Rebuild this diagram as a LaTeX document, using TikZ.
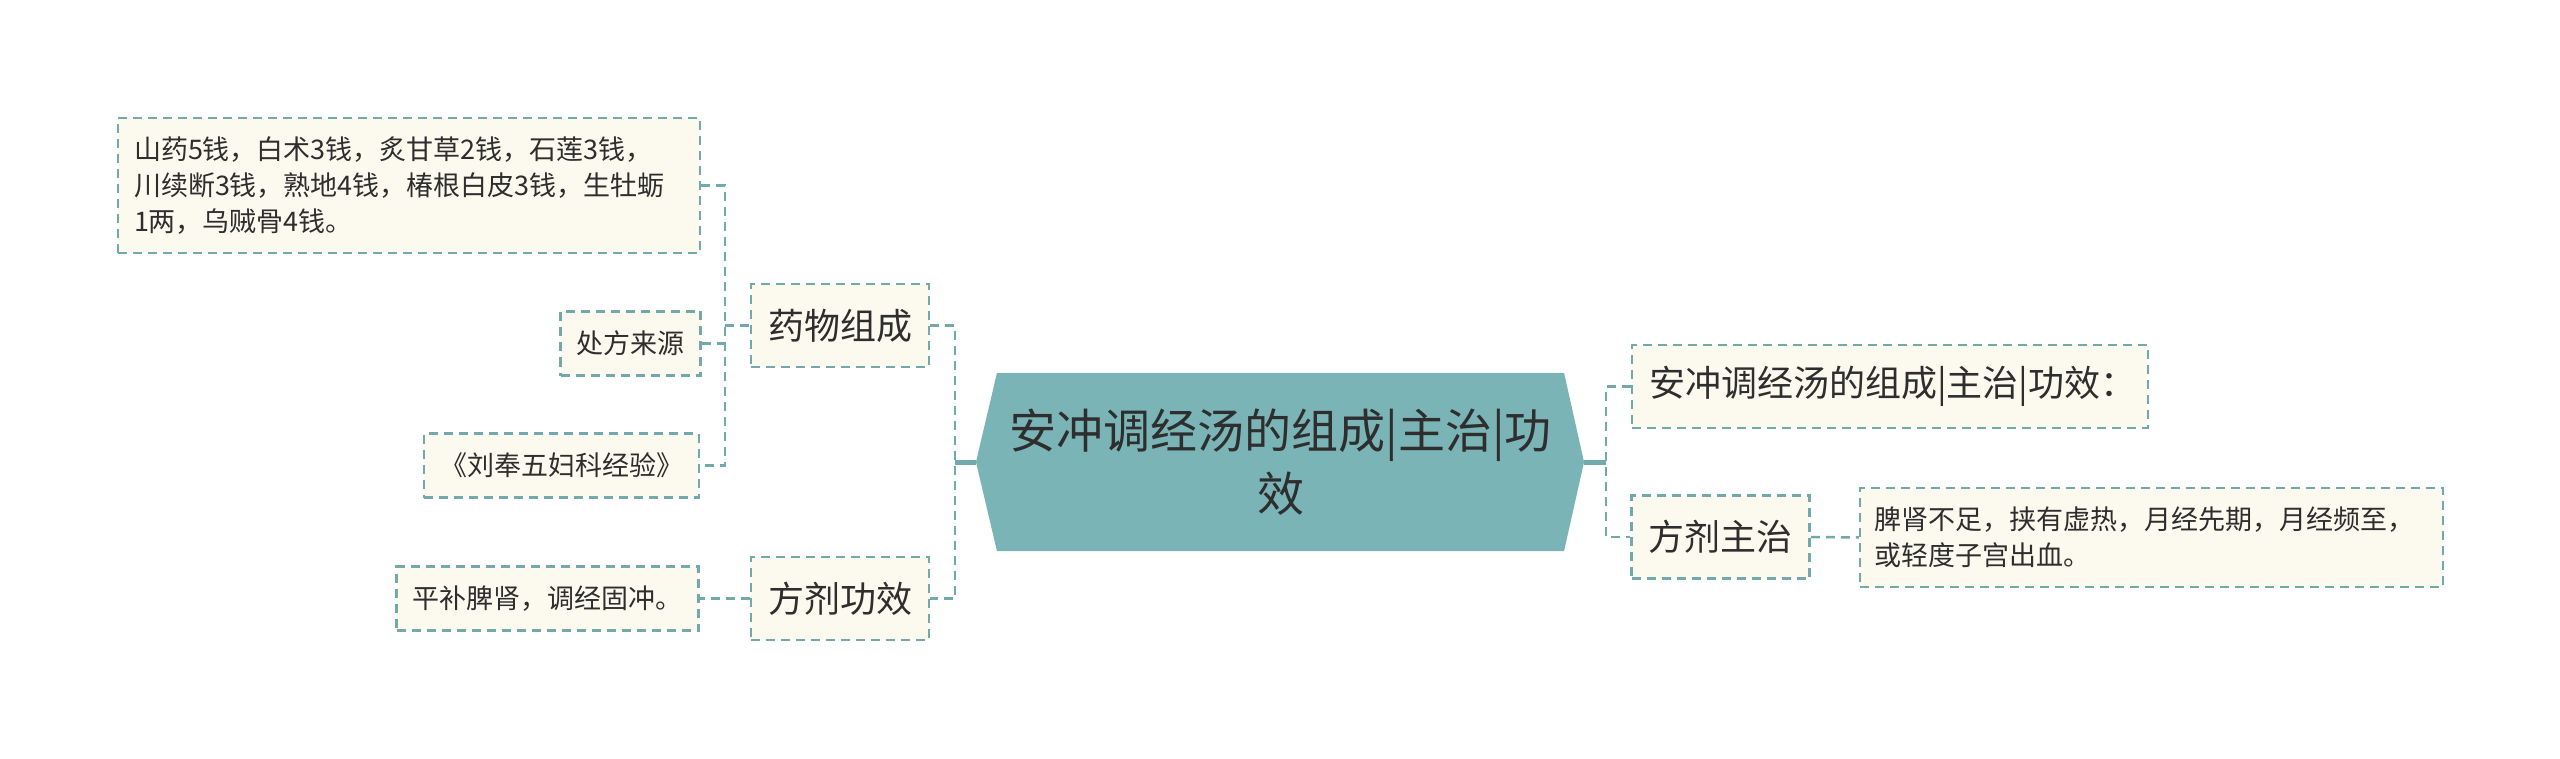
\documentclass[tikz,border=0pt]{standalone}
\usepackage{fontspec}
\setmainfont{Noto Sans CJK SC}
\usepackage{tikz}
\usetikzlibrary{backgrounds}
\definecolor{linkteal}{HTML}{72A9AA}
\definecolor{rootteal}{HTML}{7BB4B6}
\definecolor{boxcream}{HTML}{FCF9EF}
\definecolor{inkgrey}{HTML}{2E2E2E}
\tikzset{
  box/.style    = {shape=rectangle, draw=linkteal, fill=boxcream,
                   line width=2.5, dash pattern=on 9 off 6,
                   text=inkgrey, inner ysep=0},
  root/.style   = {shape=rectangle, minimum width=563, minimum height=178,
                   text width=560, align=center, text=inkgrey,
                   font=\fontsize{47}{63}\selectfont},
  branch/.style = {box, inner xsep=17, minimum height=83,
                   font=\fontsize{36}{44}\selectfont},
  leaf/.style   = {box, inner xsep=16, minimum height=64,
                   font=\fontsize{27}{36}\selectfont},
  note/.style   = {leaf, align=left},
  link/.style   = {draw=linkteal, line width=2.5, dash pattern=on 9 off 6},
  trunk/.style  = {draw=linkteal, line width=5}
}
\begin{document}
\begin{tikzpicture}[x=1pt, y=-1pt]
  \useasboundingbox (0,0) rectangle (2560,759);
  \node [root] (root) at (1280.5,462) {安冲调经汤的组成|主治|功\\效};
  \begin{scope}[on background layer]
    \coordinate (rootl) at ([xshift=-21]root.west);
    \coordinate (rootr) at ([xshift=20]root.east);
    \fill [rootteal] (rootl) -- (root.north west) -- (root.north east)
      -- (rootr) -- (root.south east) -- (root.south west) -- cycle;
  \end{scope}

  \node [branch] (yw) at (840,325.5) {药物组成};
  \node [branch] (gx) at (840,598.5) {方剂功效};
  \node [branch, text width=482, align=left] (tt) at (1890,386.5)
    {安冲调经汤的组成|主治|功效：};
  \node [branch] (zz) at (1720.5,537) {方剂主治};

  \node [note, text width=550, minimum height=135] (zc) at (409,185.5)
    {山药5钱，白术3钱，炙甘草2钱，石莲3钱，\\
     川续断3钱，熟地4钱，椿根白皮3钱，生牡蛎\\
     1两，乌贼骨4钱。};
  \node [leaf] (ly) at (630.5,343.5) {处方来源};
  \node [leaf] (sj) at (561.5,465.5) {《刘奉五妇科经验》};
  \node [leaf] (pb) at (547.5,598.5) {平补脾肾，调经固冲。};
  \node [note, inner xsep=14, text width=555, minimum height=99] (ms)
    at (2151.5,537.5)
    {脾肾不足，挟有虚热，月经先期，月经频至，\\或轻度子宫出血。};

  \coordinate (lj) at (955,462);
  \coordinate (rj) at (1606,462);
  \coordinate (ywj) at (725,325.5);

  \draw [trunk] (rootl) -- (lj);
  \draw [trunk] (rootr) -- (rj);
  \draw [link] (yw.east) -| (lj) |- (gx.east);
  \draw [link] (tt.west) -| (rj) |- (zz.west);
  \draw [link] (zc.east) -| (ywj) |- (sj.east);
  \draw [link] (ywj) -- (yw.west);
  \draw [link] (ly.east) -- (ly.east -| ywj);
  \draw [link] (gx.west) -- (pb.east);
  \draw [link] (zz.east) -- (ms.west);
\end{tikzpicture}
\end{document}
